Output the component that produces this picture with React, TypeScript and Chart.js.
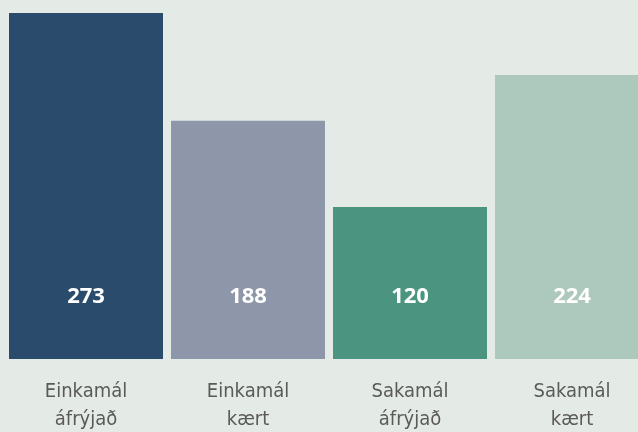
import React, { useEffect, useRef } from "react";
import { Chart, registerables } from "chart.js";

Chart.register(...registerables);

const categories: string[][] = [
  ["Einkamál", "áfrýjað"],
  ["Einkamál", "kært"],
  ["Sakamál", "áfrýjað"],
  ["Sakamál", "kært"],
];
const values: number[] = [273, 188, 120, 224];
const barColors: string[] = ["#2a4b6b", "#8e97a9", "#4b9580", "#adc8bc"];

const valueLabels = {
  id: "valueLabels",
  afterDatasetsDraw(chart: any) {
    const ctx = chart.ctx;
    const meta = chart.getDatasetMeta(0);
    const base = chart.chartArea.bottom;
    ctx.save();
    ctx.fillStyle = "#ffffff";
    ctx.font = "bold 22px 'Open Sans', sans-serif";
    ctx.textAlign = "center";
    ctx.textBaseline = "middle";
    meta.data.forEach((bar: any, i: number) => {
      ctx.fillText(String(values[i]), bar.x, base - 62);
    });
    ctx.restore();
  },
};

export default function App() {
  const ref = useRef<HTMLCanvasElement>(null);
  useEffect(() => {
    if (!ref.current) return;
    const chart = new Chart(ref.current, {
      type: "bar",
      data: {
        labels: categories,
        datasets: [
          {
            data: values,
            backgroundColor: barColors,
            borderWidth: 0,
            categoryPercentage: 1,
            barPercentage: 154 / 162,
          },
        ],
      },
      options: {
        animation: false,
        responsive: false,
        maintainAspectRatio: false,
        layout: { padding: { left: 5, right: 5, top: 13, bottom: 0 } },
        plugins: { legend: { display: false }, tooltip: { enabled: false } },
        scales: {
          x: {
            grid: { display: false, drawTicks: false },
            border: { display: false },
            afterFit: (scale: any) => {
              scale.height = 73;
            },
            ticks: {
              color: "#5a5a5a",
              font: { family: "'DejaVu Sans Condensed', sans-serif", size: 20, lineHeight: 1.4 },
              padding: 19,
              maxRotation: 0,
              autoSkip: false,
            },
          },
          y: { display: false, min: 0, max: 273 },
        },
      },
      plugins: [valueLabels],
    });
    return () => chart.destroy();
  }, []);
  return (
    <div style={{ position: "absolute", left: 0, top: 0, width: 638, height: 432, overflow: "hidden", background: "#e4eae6" }}>
      <canvas ref={ref} width={658} height={432} style={{ width: 658, height: 432, display: "block" }} />
    </div>
  );
}
